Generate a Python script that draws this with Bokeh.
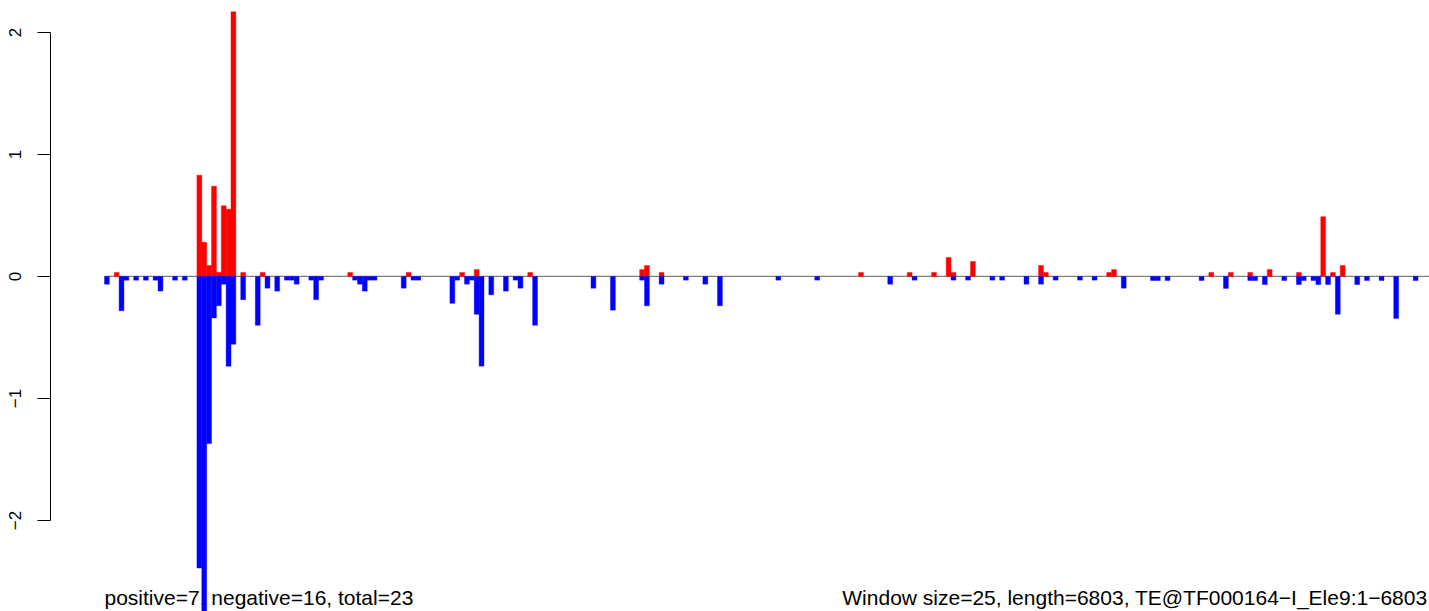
from bokeh.plotting import figure
from bokeh.models import Range1d, FixedTicker
from bokeh.core.properties import value
from bokeh.embed import file_html
from bokeh.resources import INLINE

# ---- data ----
window_size = 25
seq_length = 6803
n_windows = 273

pos_window = [2, 19, 20, 21, 22, 23, 24, 25, 26, 28, 32, 50, 62, 73, 76, 87,
              110, 111, 114, 155, 165, 170, 173, 174, 178, 192, 193, 206, 207,
              227, 231, 235, 239, 245, 250, 252, 254]
pos_value = [0.033, 0.83, 0.28, 0.09, 0.74, 0.035, 0.58, 0.55, 2.17, 0.033, 0.033,
             0.033, 0.033, 0.033, 0.057, 0.033,
             0.057, 0.09, 0.033, 0.033, 0.033, 0.033, 0.156, 0.033, 0.123, 0.09,
             0.033, 0.033, 0.057,
             0.033, 0.033, 0.033, 0.057, 0.033, 0.49, 0.033, 0.09]

neg_window = [0, 3, 4, 6, 8, 10, 11, 14, 16, 19, 20, 21, 22, 23, 24, 25, 26,
              28, 31, 33, 35, 37, 38, 39, 42, 43, 44, 51, 52, 53, 54, 55, 61,
              63, 64, 71, 72, 74, 75, 76, 77, 79, 82, 84, 85, 88, 100, 104,
              110, 111, 114, 119, 123, 126, 138, 146, 161, 166, 174, 177, 182,
              184, 189, 192, 195, 200, 203, 209, 215, 216, 218, 225, 230, 235,
              236, 238, 242, 245, 246, 248, 249, 251, 253, 257, 259, 262, 265,
              269]
neg_value = [-0.063, -0.28, -0.03, -0.03, -0.03, -0.03, -0.12, -0.03, -0.03,
             -2.39, -2.80, -1.37, -0.34, -0.24, -0.064, -0.735, -0.555,
             -0.19, -0.40, -0.096, -0.12, -0.03, -0.03, -0.063, -0.03, -0.19,
             -0.03, -0.03, -0.063, -0.12, -0.03, -0.03, -0.096,
             -0.03, -0.03, -0.22, -0.03, -0.063, -0.03, -0.31, -0.735, -0.15,
             -0.12, -0.03, -0.096, -0.40, -0.096, -0.276,
             -0.03, -0.24, -0.063, -0.03, -0.063, -0.24, -0.03, -0.03, -0.063,
             -0.03, -0.03, -0.03, -0.03,
             -0.03, -0.063, -0.063, -0.03, -0.03, -0.03, -0.096, -0.033, -0.033,
             -0.033, -0.033, -0.098, -0.033,
             -0.033, -0.066, -0.033, -0.066, -0.033, -0.033, -0.066, -0.066,
             -0.31, -0.066, -0.033, -0.033, -0.344,
             -0.033]

tick_values = [-2, -1, 0, 1, 2]
tick_labels = ["\u22122", "\u22121", "0", "1", "2"]

left_note = "positive=7, negative=16, total=23"
right_note = "Window size=25, length=6803, TE@TF000164\u2212I_Ele9:1\u22126803"

# ---- figure ----
FONT = "Liberation Sans"
p = figure(width=1429, height=611, output_backend="svg", toolbar_location=None,
           x_range=Range1d(-11.10, 272.35), y_range=Range1d(-2.746, 2.262),
           x_axis_location=None, min_border_left=50, min_border_right=0,
           min_border_top=0, min_border_bottom=0)
p.outline_line_color = None
for g in p.grid:
    g.visible = False
p.background_fill_color = "white"
p.border_fill_color = "white"

ax = p.yaxis[0]
ax.ticker = FixedTicker(ticks=tick_values)
ax.bounds = (-2, 2)
ax.major_label_overrides = {v: t for v, t in zip(tick_values, tick_labels)}
ax.major_tick_in = 0
ax.major_tick_out = 13
ax.minor_tick_in = 0
ax.minor_tick_out = 0
ax.axis_line_color = "black"
ax.axis_line_width = 1
ax.major_tick_line_width = 1
ax.major_label_orientation = "vertical"
ax.major_label_text_font = FONT
ax.major_label_text_font_size = "17px"
ax.major_label_text_color = "black"
ax.major_label_standoff = 16

# notes under the bars
note_y = -2.728
p.text(x=[0], y=[note_y], text=[left_note], text_font=value(FONT),
       text_font_size="21px", text_align="left", text_baseline="bottom",
       text_color="black")
p.text(x=[p.x_range.end], y=[note_y], text=[right_note], text_font=value(FONT),
       text_font_size="21px", text_align="right", text_baseline="bottom",
       x_offset=-2, text_color="black")

# zero line
p.segment(x0=[0], y0=[0], x1=[n_windows], y1=[0], line_color="#808080",
          line_width=1.3)

# bars
p.vbar(x=[w + 0.5 for w in pos_window], width=1, top=pos_value, bottom=0,
       fill_color="#FF0000", line_color="#FF0000", line_width=0.4)
p.vbar(x=[w + 0.5 for w in neg_window], width=1, top=0, bottom=neg_value,
       fill_color="#0000FF", line_color="#0000FF", line_width=0.4)

open("out.html", "w").write(file_html(p, INLINE))
